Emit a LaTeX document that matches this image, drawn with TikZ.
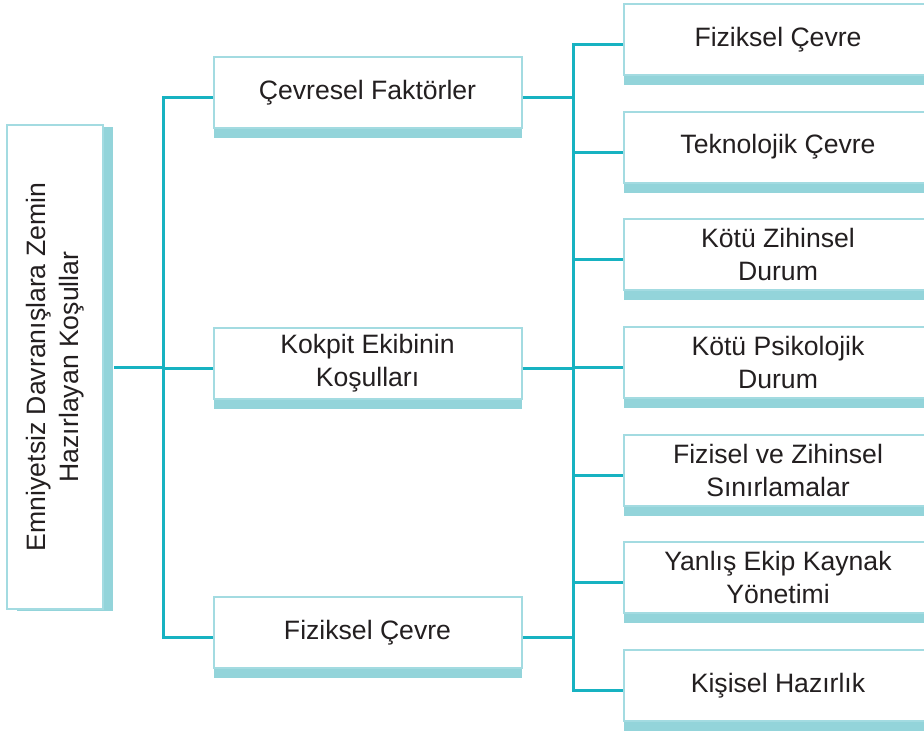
\documentclass[tikz,border=0pt]{standalone}
\usepackage{fontspec}
\setmainfont{Liberation Sans}
\usetikzlibrary{positioning,shadows}
\definecolor{hatrenk}{HTML}{17B2C1}
\definecolor{kenarrenk}{HTML}{A3DBE1}
\definecolor{golgerenk}{HTML}{93D4DA}
\definecolor{yazirenk}{HTML}{231F20}
\tikzset{node distance=17.33pt,
  temel/.style={draw=kenarrenk, line width=1pt, fill=white, text=yazirenk,
    inner sep=0pt, align=center, font=\fontsize{13.3}{16.5}\selectfont},
  kutu/.style={temel, minimum width=154pt, minimum height=35.5pt,
    drop shadow={shadow xshift=0pt, shadow yshift=-5pt, fill=golgerenk, opacity=1}},
  dikkutu/.style={temel, minimum width=48pt, minimum height=242pt,
    drop shadow={shadow xshift=5pt, shadow yshift=-1pt, fill=golgerenk, opacity=1}},
  hat/.style={draw=hatrenk, line width=1.5pt}}

\begin{document}
\begin{tikzpicture}[x=0.5pt, y=-0.5pt]
  \useasboundingbox (0,0) rectangle (924,732);
  \clip (0,0) rectangle (924,732);

  % sol kutu
  \node[dikkutu] (sol) at (55,367)
        {\rotatebox{90}{\begin{tabular}{@{}c@{}}Emniyetsiz Davranışlara Zemin\\Hazırlayan Koşullar\end{tabular}}};

  % orta sutun
  \node[kutu] (m1) at (367.5,93) {Çevresel Faktörler};
  \node[kutu] (m2) at (367.5,363.5) {Kokpit Ekibinin\\Koşulları};
  \node[kutu] (m3) at (367.5,632.5) {Fiziksel Çevre};

  % sag sutun
  \node[kutu] (r1) at (778,39.5) {Fiziksel Çevre};
  \node[kutu] (r2) [below=of r1] {Teknolojik Çevre};
  \node[kutu] (r3) [below=of r2] {Kötü Zihinsel\\Durum};
  \node[kutu] (r4) [below=of r3] {Kötü Psikolojik\\Durum};
  \node[kutu] (r5) [below=of r4] {Fizisel ve Zihinsel\\Sınırlamalar};
  \node[kutu] (r6) [below=of r5] {Yanlış Ekip Kaynak\\Yönetimi};
  \node[kutu] (r7) [below=of r6] {Kişisel Hazırlık};

  % baglantilar
  \coordinate (b1) at (163,0);
  \coordinate (b2) at (573,0);
  \foreach \n in {m1,m2,m3,r1,r2,r3,r4,r5,r6,r7} {
    \coordinate (\n g) at ([yshift=-2.5pt]\n.west);
    \coordinate (\n d) at ([yshift=-2.5pt]\n.east);
  }

  \draw[hat] ([xshift=5pt]sol.east) -- (sol.east -| b1);
  \draw[hat] (m1g) -| (b1 |- m3g) -- (m3g);
  \draw[hat] (b1 |- m2g) -- (m2g);

  \draw[hat] (m1d) -- (m1d -| b2);
  \draw[hat] (m2d) -- (m2d -| b2);
  \draw[hat] (m3d) -- (m3d -| b2);

  \draw[hat] (r1g) -| (b2 |- r7g) -- (r7g);
  \foreach \n in {r2,r3,r4,r5,r6}
    \draw[hat] (b2 |- \n g) -- (\n g);

\end{tikzpicture}
\end{document}
